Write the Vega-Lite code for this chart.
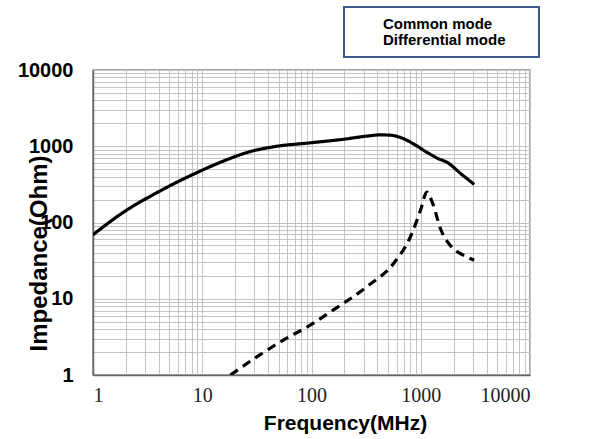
{
  "$schema": "https://vega.github.io/schema/vega-lite/v6.json",
  "width": 437,
  "height": 305,
  "autosize": {"type": "none"},
  "padding": {"left": 93, "top": 70, "right": 84, "bottom": 64},
  "background": "white",
  "config": {"view": {"stroke": "#8a8a8a", "strokeWidth": 1.5}},
  "data": {"values": [
    {"mode": "Common mode", "f": 1, "z": 69},
    {"mode": "Common mode", "f": 1.88, "z": 135},
    {"mode": "Common mode", "f": 3.84, "z": 246},
    {"mode": "Common mode", "f": 9.6, "z": 473},
    {"mode": "Common mode", "f": 15.7, "z": 641},
    {"mode": "Common mode", "f": 27.5, "z": 851},
    {"mode": "Common mode", "f": 48.4, "z": 1000},
    {"mode": "Common mode", "f": 98, "z": 1110},
    {"mode": "Common mode", "f": 196, "z": 1235},
    {"mode": "Common mode", "f": 324, "z": 1360},
    {"mode": "Common mode", "f": 430, "z": 1410},
    {"mode": "Common mode", "f": 531, "z": 1395},
    {"mode": "Common mode", "f": 655, "z": 1300},
    {"mode": "Common mode", "f": 869, "z": 1062},
    {"mode": "Common mode", "f": 1150, "z": 826},
    {"mode": "Common mode", "f": 1423, "z": 695},
    {"mode": "Common mode", "f": 1758, "z": 610},
    {"mode": "Common mode", "f": 2328, "z": 437},
    {"mode": "Common mode", "f": 3083, "z": 316},
    {"mode": "Differential mode", "f": 18.1, "z": 1.0},
    {"mode": "Differential mode", "f": 31.8, "z": 1.74},
    {"mode": "Differential mode", "f": 55.7, "z": 2.89},
    {"mode": "Differential mode", "f": 94.5, "z": 4.4},
    {"mode": "Differential mode", "f": 160, "z": 7.2},
    {"mode": "Differential mode", "f": 324, "z": 14.5},
    {"mode": "Differential mode", "f": 569, "z": 29.5},
    {"mode": "Differential mode", "f": 809, "z": 66},
    {"mode": "Differential mode", "f": 1000, "z": 148},
    {"mode": "Differential mode", "f": 1135, "z": 251},
    {"mode": "Differential mode", "f": 1280, "z": 181},
    {"mode": "Differential mode", "f": 1525, "z": 81},
    {"mode": "Differential mode", "f": 1885, "z": 49},
    {"mode": "Differential mode", "f": 2497, "z": 36.8},
    {"mode": "Differential mode", "f": 3083, "z": 31.9}
  ]},
  "mark": {"type": "line", "strokeWidth": 3.2, "clip": true, "interpolate": "monotone"},
  "encoding": {
    "x": {
      "field": "f", "type": "quantitative",
      "scale": {"type": "log", "domain": [1, 10000], "nice": false},
      "axis": {
        "values": [1,2,3,4,5,6,7,8,9,10,20,30,40,50,60,70,80,90,100,200,300,400,500,600,700,800,900,1000,2000,3000,4000,5000,6000,7000,8000,9000,10000],
        "format": "d",
        "labelExpr": "(datum.value == 1 || datum.value == 10 || datum.value == 100 || datum.value == 1000 || datum.value == 10000) ? datum.label : ''",
        "labelOverlap": false,
        "labelFont": "Liberation Serif", "labelFontSize": 20, "labelColor": "#222",
        "labelPadding": 10, "ticks": false,
        "grid": true, "gridColor": "#c4c4c4", "gridWidth": 1,
        "domainColor": "#666", "domainWidth": 1.5,
        "title": "Frequency(MHz)", "titleFont": "Liberation Sans", "titleFontSize": 21, "titleFontWeight": "bold", "titleColor": "black",
        "titleX": 252, "titleY": 54, "titleBaseline": "alphabetic"
      }
    },
    "y": {
      "field": "z", "type": "quantitative",
      "scale": {"type": "log", "domain": [1, 10000], "nice": false},
      "axis": {
        "values": [1,2,3,4,5,6,7,8,9,10,20,30,40,50,60,70,80,90,100,200,300,400,500,600,700,800,900,1000,2000,3000,4000,5000,6000,7000,8000,9000,10000],
        "format": "d",
        "labelExpr": "(datum.value == 1 || datum.value == 10 || datum.value == 100 || datum.value == 1000 || datum.value == 10000) ? datum.label : ''",
        "labelOverlap": false,
        "labelFont": "Liberation Sans", "labelFontSize": 20, "labelFontWeight": "bold", "labelColor": "black",
        "labelPadding": 20, "ticks": false,
        "grid": true, "gridColor": "#c4c4c4", "gridWidth": 1,
        "domainColor": "#666", "domainWidth": 1.5,
        "title": "Impedance(Ohm)", "titleFont": "Liberation Sans", "titleFontSize": 24, "titleFontWeight": "bold", "titleColor": "black",
        "titleX": -47, "titleY": 183, "titleBaseline": "alphabetic", "titleAngle": -90
      }
    },
    "color": {
      "field": "mode", "type": "nominal",
      "scale": {"domain": ["Common mode", "Differential mode"], "range": ["black", "black"]},
      "legend": {
        "orient": "none", "legendX": 251, "legendY": -63,
        "title": "x", "titleOrient": "right", "titleColor": "white", "titleFontSize": 12, "titlePadding": 17,
        "labelFont": "Liberation Sans", "labelFontSize": 15, "labelFontWeight": "bold", "labelColor": "black",
        "labelOffset": 15, "symbolSize": 64, "symbolOpacity": 0, "symbolStrokeWidth": 0,
        "rowPadding": 0, "padding": 9,
        "strokeColor": "#3a5a8c", "fillColor": "white",
        "encode": {"legend": {"update": {"strokeWidth": {"value": 2}}}}
      }
    },
    "strokeDash": {
      "condition": {"test": "datum.mode == 'Differential mode'", "value": [9, 6]},
      "value": [1, 0]
    }
  }
}
